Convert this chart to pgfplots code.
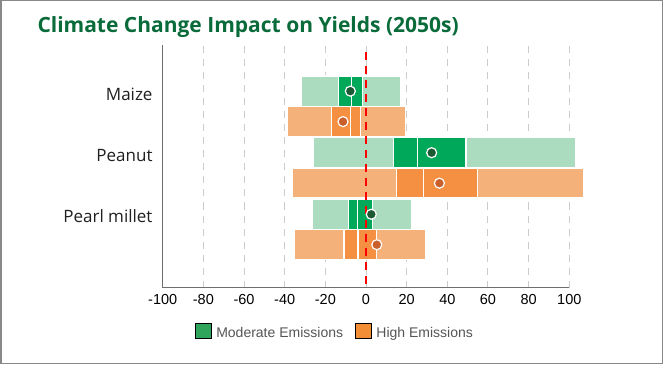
\documentclass[border=0pt]{standalone}
\usepackage{pgfplots}
\pgfplotsset{compat=1.18}
\usepackage{fontspec}
\setmainfont{Liberation Sans}
\newfontfamily\osans{Open Sans}

\definecolor{lgreen}{HTML}{ACDCBF}
\definecolor{dgreen}{HTML}{00A859}
\definecolor{pgreen}{HTML}{1B5A33}
\definecolor{lorange}{HTML}{F4B27A}
\definecolor{dorange}{HTML}{F58F42}
\definecolor{porange}{HTML}{C9602C}
\definecolor{leggreen}{HTML}{2EA55A}
\definecolor{legorange}{HTML}{F28E35}
\definecolor{titlegreen}{HTML}{0A6B3A}
\definecolor{axisgrey}{HTML}{6E6E6E}
\definecolor{gridgrey}{HTML}{CCCCCC}
\definecolor{framegrey}{HTML}{888888}
\definecolor{legtext}{HTML}{555555}

% #1 y-bottom, #2 y-top, #3 min, #4 q1, #5 mid, #6 q3, #7 max, #8 light, #9 dark
\newcommand\boxbar[9]{%
  \addplot[forget plot, fill=#8, draw=white, line width=1.2pt] coordinates {(#3,#1) (#4,#1) (#4,#2) (#3,#2)} -- cycle;
  \addplot[forget plot, fill=#8, draw=white, line width=1.2pt] coordinates {(#6,#1) (#7,#1) (#7,#2) (#6,#2)} -- cycle;
  \addplot[forget plot, fill=#9, draw=white, line width=1.2pt] coordinates {(#4,#1) (#5,#1) (#5,#2) (#4,#2)} -- cycle;
  \addplot[forget plot, fill=#9, draw=white, line width=1.2pt] coordinates {(#5,#1) (#6,#1) (#6,#2) (#5,#2)} -- cycle;
}

\begin{document}
\begin{tikzpicture}[x=1pt,y=1pt]
\useasboundingbox (0,0) rectangle (663,364);
\draw[framegrey, line width=1.5pt] (0.75,0.75) rectangle (662.25,363.25);
\node[anchor=base west, font=\osans\bfseries\fontsize{21}{24}\selectfont, text=titlegreen, inner sep=0pt] at (37.3,331.7) {Climate Change Impact on Yields (2050s)};
\begin{axis}[
  at={(162.7pt,76.5pt)}, anchor=south west,
  scale only axis, width=406.6pt, height=242.5pt,
  xmin=-100, xmax=100, ymin=-2.94, ymax=1,
  clip=false,
  axis lines=left,
  axis line style={-, draw=axisgrey, line width=1.5pt},
  xtick={-100,-80,-60,-40,-20,0,20,40,60,80,100},
  xticklabels={-100,-80,-60,-40,-20,0,20,40,60,80,100},
  ytick={0.2,-0.8,-1.78},
  yticklabels={Maize,Peanut,Pearl millet},
  major tick length=0pt,
  xmajorgrids,
  grid style={gridgrey, dash pattern=on 7pt off 6pt, line width=1pt},
  xticklabel style={font=\fontsize{14.5}{16}\selectfont, text=black, anchor=center, yshift=-12pt, inner sep=0pt},
  yticklabel style={font=\osans\fontsize{17}{20}\selectfont, text=black!88, anchor=east, inner sep=0pt, xshift=-10pt},
  legend image code/.code={\fill[#1] (0pt,-4.8pt) rectangle (15.6pt,10.8pt);},
  legend style={at={(0.0794,-0.1808)}, anchor=west, draw=none, fill=none,
    inner sep=0pt, outer sep=0pt, legend columns=2,
    font=\fontsize{14}{16}\selectfont,
    nodes={inner sep=0pt, text=legtext, text height=10pt, text depth=3pt},
    /tikz/every odd column/.append style={column sep=5.3pt},
    /tikz/every even column/.append style={column sep=12pt}},
]
\addlegendimage{fill=leggreen}
\addlegendentry{Moderate Emissions}
\addlegendimage{fill=legorange}
\addlegendentry{High Emissions}

% Maize
\boxbar{0}{0.495}{-32.0}{-13.4}{-7.0}{-1.6}{17.2}{lgreen}{dgreen}
\boxbar{-0.485}{0}{-38.7}{-16.9}{-7.8}{-2.6}{19.5}{lorange}{dorange}
% Peanut
\boxbar{-1}{-0.505}{-25.7}{13.4}{25.3}{49.2}{102.9}{lgreen}{dgreen}
\boxbar{-1.485}{-1}{-36.1}{14.9}{28.2}{54.9}{107.2}{lorange}{dorange}
% Pearl millet
\boxbar{-2}{-1.505}{-26.4}{-8.7}{-4.3}{3.3}{22.3}{lgreen}{dgreen}
\boxbar{-2.485}{-2}{-35.3}{-10.8}{-3.9}{5.3}{29.4}{lorange}{dorange}

% zero line
\addplot[forget plot, draw=red, line width=1.5pt, dash pattern=on 8pt off 6pt] coordinates {(0,0.89) (0,-2.94)};

% central estimates
\addplot[forget plot, only marks, mark=*, mark size=5pt, line width=1.2pt, mark options={solid, fill=pgreen, draw=white, line width=1.2pt}] coordinates {(-7.7,0.25) (32.3,-0.75) (2.6,-1.75)};
\addplot[forget plot, only marks, mark=*, mark size=5pt, line width=1.2pt, mark options={solid, fill=porange, draw=white, line width=1.2pt}] coordinates {(-11.3,-0.245) (36.1,-1.245) (5.3,-2.245)};
\end{axis}
\end{tikzpicture}
\end{document}
